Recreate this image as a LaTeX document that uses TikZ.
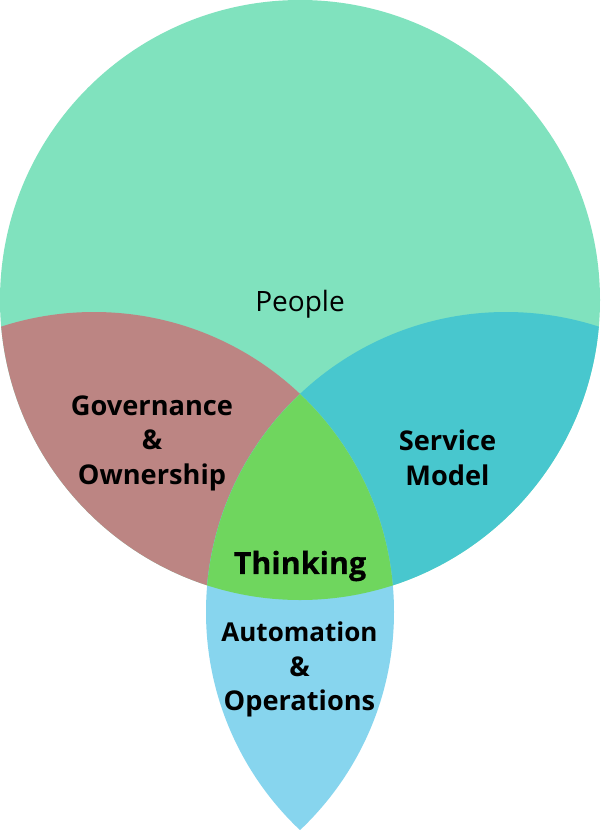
\documentclass[tikz,border=0pt]{standalone}
\usepackage{fontspec}
\setmainfont{Open Sans}
\newfontfamily\thinkfont[FakeBold=0.5]{Open Sans Bold}
\definecolor{mintc}{HTML}{80E2BE}
\definecolor{redc}{HTML}{BC8583}
\definecolor{tealc}{HTML}{48C7CE}
\definecolor{greenc}{HTML}{6FD65E}
\definecolor{bluec}{HTML}{87D5EE}
\tikzset{
  boldlabel/.style={font=\fontsize{27.2}{34.5}\selectfont\bfseries,align=center,text=black,inner sep=0pt},
  plainlabel/.style={font=\fontsize{28}{30}\selectfont,text=black,inner sep=0pt},
  thinklabel/.style={font=\fontsize{30.5}{34}\selectfont\thinkfont,text=black,inner sep=0pt}
}
\newcommand{\bigdisc}{(300,300) circle[radius=300]}
\newcommand{\leftdisc}{(94,612) circle[radius=300]}
\newcommand{\rightdisc}{(506,612) circle[radius=300]}
\begin{document}
\begin{tikzpicture}[x=1pt,y=-1pt]
\useasboundingbox (0,0) rectangle (600,830);
\fill[white] (0,0) rectangle (600,830);
\fill[mintc] \bigdisc;
\begin{scope}
  \clip \bigdisc;
  \fill[redc] \leftdisc;
  \fill[tealc] \rightdisc;
\end{scope}
\begin{scope}
  \clip \leftdisc;
  \fill[bluec] \rightdisc;
\end{scope}
\begin{scope}
  \clip \bigdisc;
  \clip \leftdisc;
  \fill[greenc] \rightdisc;
\end{scope}
\node[plainlabel] (people) at (300,304) {People};
\node[boldlabel] (gov) at (152,443) {Governance\\\&\\Ownership};
\node[boldlabel] (svc) at (447.5,458) {Service\\Model};
\node[thinklabel] (think) at (300,566) {Thinking};
\node[boldlabel] (auto) at (299.5,669.5) {\fontsize{26}{34.5}\selectfont Automation\\\&\\Operations};
\end{tikzpicture}
\end{document}
